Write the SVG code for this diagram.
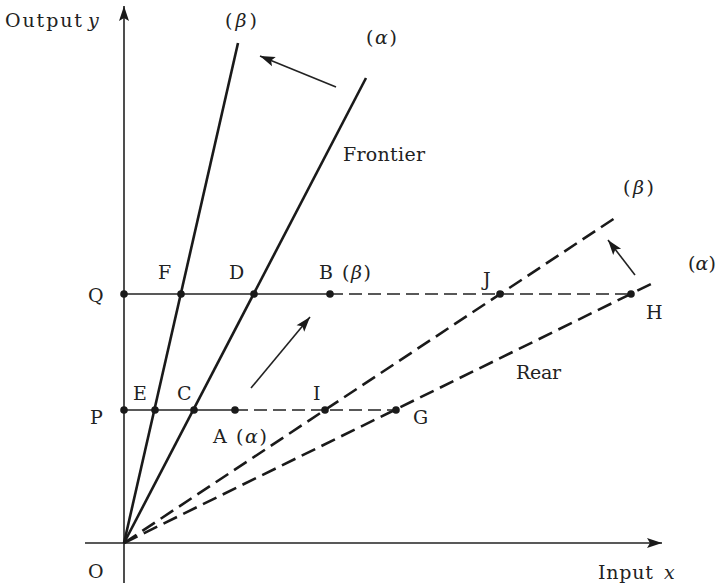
<svg xmlns="http://www.w3.org/2000/svg" width="718" height="586" viewBox="0 0 718 586">
<style>
text{font-family:"DejaVu Serif","Liberation Serif",serif;font-size:19px;fill:#222}
.it{font-style:italic}
.axis{stroke:#222;stroke-width:1.6;fill:none}
.solid{stroke:#1a1a1a;stroke-width:2.6;fill:none}
.rear{stroke:#1a1a1a;stroke-width:2.6;fill:none;stroke-dasharray:15 7}
.hs{stroke:#222;stroke-width:1.6;fill:none}
.hd{stroke:#222;stroke-width:1.6;fill:none;stroke-dasharray:13 6}
.arr{stroke:#222;stroke-width:1.6;fill:none}
.dot{fill:#1a1a1a}
</style>
<defs>
<marker id="ah" markerUnits="userSpaceOnUse" markerWidth="20" markerHeight="14" refX="15" refY="5" orient="auto" viewBox="0 0 20 10" overflow="visible">
<path d="M15,5 L0,0 L3,5 L0,10 Z" fill="#1a1a1a"/>
</marker>
</defs>
<g id="connectors">
<line class="axis" x1="124" y1="583" x2="124" y2="6" marker-end="url(#ah)"/>
<line class="axis" x1="85" y1="543" x2="662" y2="543" marker-end="url(#ah)"/>
<line class="solid" x1="124" y1="543" x2="238" y2="43"/>
<line class="solid" x1="124" y1="543" x2="366" y2="78"/>
<line class="rear" x1="124" y1="543" x2="618" y2="216"/>
<line class="rear" x1="124" y1="543" x2="651" y2="284"/>
<line class="hs" x1="124" y1="294" x2="330" y2="294"/>
<line class="hd" x1="330" y1="294" x2="631" y2="294"/>
<line class="hs" x1="124" y1="410" x2="235" y2="410"/>
<line class="hd" x1="235" y1="410" x2="397" y2="410"/>
<line class="arr" x1="336" y1="87" x2="260" y2="56" marker-end="url(#ah)"/>
<line class="arr" x1="251" y1="388" x2="310" y2="317" marker-end="url(#ah)"/>
<line class="arr" x1="635" y1="275" x2="608" y2="240" marker-end="url(#ah)"/>
</g>
<g id="points">
<circle class="dot" cx="124" cy="294" r="3.8"/>
<circle class="dot" cx="181" cy="294" r="3.8"/>
<circle class="dot" cx="254" cy="294" r="3.8"/>
<circle class="dot" cx="330" cy="294" r="3.8"/>
<circle class="dot" cx="500" cy="294" r="3.8"/>
<circle class="dot" cx="631" cy="294" r="3.8"/>
<circle class="dot" cx="124" cy="410" r="3.8"/>
<circle class="dot" cx="155" cy="410" r="3.8"/>
<circle class="dot" cx="194" cy="410" r="3.8"/>
<circle class="dot" cx="235" cy="410" r="3.8"/>
<circle class="dot" cx="325" cy="410" r="3.8"/>
<circle class="dot" cx="396" cy="410" r="3.8"/>
</g>
<g id="labels">
<text x="5" y="27" textLength="77" lengthAdjust="spacing">Output</text>
<text x="88" y="27" class="it">y</text>
<text x="225" y="27" textLength="32" lengthAdjust="spacing">(<tspan class="it">β</tspan>)</text>
<text x="366" y="44" textLength="31" lengthAdjust="spacing">(<tspan class="it">α</tspan>)</text>
<text x="343" y="161" textLength="82" lengthAdjust="spacing">Frontier</text>
<text x="623" y="194" textLength="31" lengthAdjust="spacing">(<tspan class="it">β</tspan>)</text>
<text x="688" y="270" textLength="28" lengthAdjust="spacing">(<tspan class="it">α</tspan>)</text>
<text x="158" y="279">F</text>
<text x="229" y="279">D</text>
<text x="319" y="279" textLength="52" lengthAdjust="spacing">B (<tspan class="it">β</tspan>)</text>
<text x="483" y="286">J</text>
<text x="646" y="319">H</text>
<text x="88" y="302">Q</text>
<text x="516" y="379" textLength="45" lengthAdjust="spacing">Rear</text>
<text x="133" y="400">E</text>
<text x="177" y="400">C</text>
<text x="313" y="400">I</text>
<text x="90" y="424">P</text>
<text x="213" y="443" textLength="54" lengthAdjust="spacing">A (<tspan class="it">α</tspan>)</text>
<text x="413" y="424">G</text>
<text x="88" y="578">O</text>
<text x="598" y="579" textLength="55" lengthAdjust="spacing">Input</text>
<text x="664" y="579" class="it">x</text>
</g>
</svg>
